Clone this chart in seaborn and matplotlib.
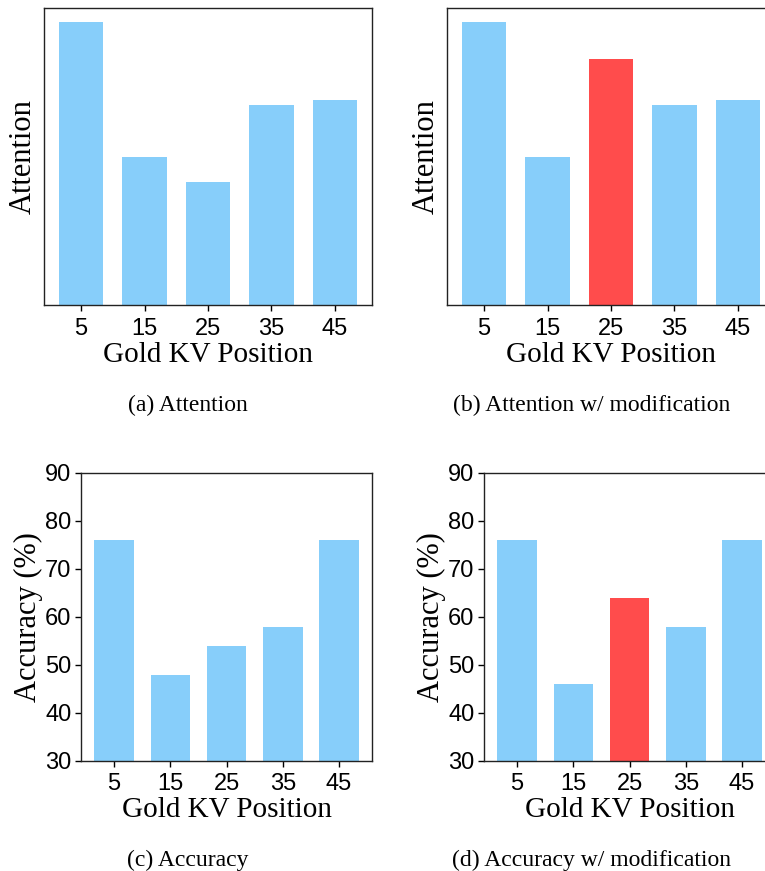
import pandas as pd
import matplotlib
matplotlib.use("Agg")
import matplotlib.pyplot as plt
import seaborn as sns

# Data
positions = ["5", "15", "25", "35", "45"]
attention = [0.283, 0.148, 0.123, 0.200, 0.205]
attention_mod = [0.283, 0.148, 0.246, 0.200, 0.205]
accuracy = [76, 48, 54, 58, 76]
accuracy_mod = [76, 46, 64, 58, 76]
highlight = [False, False, True, False, False]

blue = "#87CEFA"
red = "#FF4C4C"

sns.set_style("white")
plt.rcParams["font.family"] = ["Liberation Sans", "DejaVu Sans"]
plt.rcParams["text.color"] = "black"
plt.rcParams["axes.labelcolor"] = "black"
serif = ["Liberation Serif", "DejaVu Serif"]

fig = plt.figure(figsize=(7.65, 8.71), dpi=100)

# axes rectangles in figure fractions (left, bottom, width, height)
rects = [
    (0.0575, 0.6498, 0.4288, 0.341),
    (0.5843, 0.6498, 0.4288, 0.341),
    (0.1059, 0.1263, 0.3804, 0.3307),
    (0.6327, 0.1263, 0.3804, 0.3307),
]
series = [attention, attention_mod, accuracy, accuracy_mod]
hl = [[False] * 5, highlight, [False] * 5, highlight]
captions = ["(a) Attention", "(b) Attention w/ modification",
            "(c) Accuracy", "(d) Accuracy w/ modification"]
caption_xy = [(188, 405), (592, 405), (188, 860), (592, 860)]

for i in range(4):
    ax = fig.add_axes(rects[i])
    df = pd.DataFrame({"pos": positions, "val": series[i]})
    colors = [red if h else blue for h in hl[i]]
    sns.barplot(data=df, x="pos", y="val", hue="pos", palette=colors,
                width=0.7, legend=False, ax=ax, saturation=1, linewidth=0)
    ax.set_xlim(-0.585, 4.585)
    for s in ax.spines.values():
        s.set_visible(True)
        s.set_color("#222222")
        s.set_linewidth(1.0)
    ax.tick_params(axis="x", length=4, width=1, pad=5, labelsize=17,
                   bottom=True, colors="black")
    ax.set_xlabel("Gold KV Position", fontsize=21, family=serif)
    ax.xaxis.set_label_coords(0.5, -0.125)
    if i < 2:
        ax.set_ylim(0, 0.297)
        ax.set_yticks([])
        ax.set_ylabel("Attention", fontsize=22, family=serif)
        ax.yaxis.set_label_coords(-0.02, 0.5)
    else:
        ax.set_ylim(30, 90)
        ax.set_yticks([30, 40, 50, 60, 70, 80, 90])
        ax.tick_params(axis="y", length=4, width=1, pad=3, labelsize=17,
                       left=True, colors="black")
        ax.set_ylabel("Accuracy (%)", fontsize=22, family=serif)
        ax.yaxis.set_label_coords(-0.131, 0.5)
    cx, cy = caption_xy[i]
    fig.text(cx / 765, 1 - cy / 871, captions[i], ha="center", va="center",
             fontsize=17, family=serif)

fig.savefig("out.png", dpi=100)
